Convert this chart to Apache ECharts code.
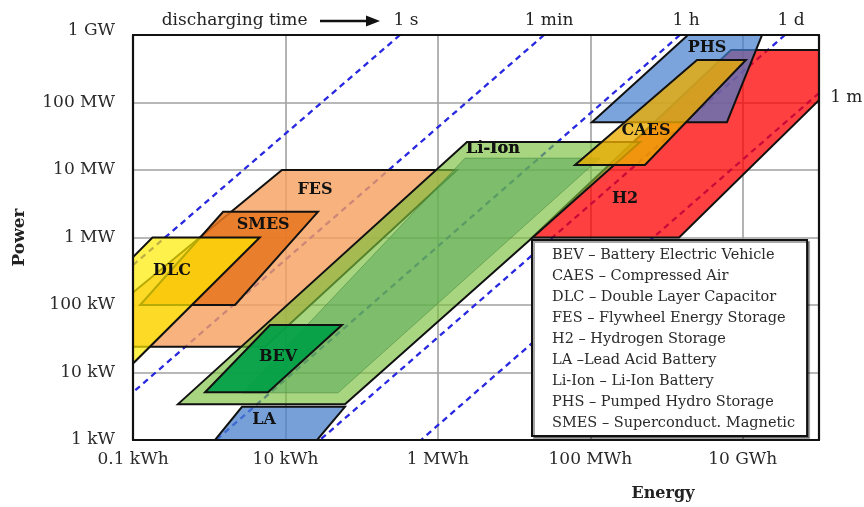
<!DOCTYPE html>
<html>
<head>
<meta charset="utf-8">
<script src="https://cdn.jsdelivr.net/npm/echarts@6/dist/echarts.min.js"></script>
<style>
html,body{margin:0;padding:0;background:#fff;}
#chart{width:864px;height:507px;}
</style>
</head>
<body>
<div id="chart"></div>
<script>
// ---- axes (Energy in Wh, Power in W) ----
const xTickValues = [1e2, 1e4, 1e6, 1e8, 1e10];
const xTickLabels = ['0.1 kWh', '10 kWh', '1 MWh', '100 MWh', '10 GWh'];
const yTickValues = [1e3, 1e4, 1e5, 1e6, 1e7, 1e8, 1e9];
const yTickLabels = ['1 kW', '10 kW', '100 kW', '1 MW', '10 MW', '100 MW', '1 GW'];

// ---- technology regions: vertices [energy Wh, power W] ----
const h2Vertices     = [[7.0e9, 6e8], [4.67e11, 6e8], [1.46e9, 1e6], [1.72e7, 1e6]];
const phsVertices    = [[1.91e9, 1e9], [1.79e10, 1e9], [6.2e9, 5.1e7], [1.05e8, 5.1e7]];
const fesVertices    = [[9.0e3, 1e7], [1.78e6, 1e7], [5.4e3, 2.4e4], [13.6, 2.4e4]];
const smesVertices   = [[1.52e3, 2.4e6], [2.67e4, 2.4e6], [2.18e3, 1e5], [124, 1e5]];
const dlcVertices    = [[180, 1e6], [4600, 1e6], [76, 1e4], [3.2, 1e4]];
const laVertices     = [[2.69e3, 3.1e3], [6.04e4, 3.1e3], [2.6e4, 1e3], [1.19e3, 1e3]];
const liIonOuterVertices = [[2.41e6, 2.6e7], [4.49e8, 2.6e7], [6.04e4, 3.4e3], [389, 3.4e3]];
const liIonInnerVertices = [[2.27e6, 1.5e7], [1.34e8, 1.5e7], [4.9e4, 5e3], [2.77e3, 5e3]];
const bevVertices    = [[6.27e3, 5.06e4], [5.52e4, 5.06e4], [5.9e3, 5.1e3], [881, 5.1e3]];
const caesVertices   = [[2.51e9, 4.26e8], [1.1e10, 4.26e8], [5.2e8, 1.19e7], [6.3e7, 1.19e7]];

// label anchor points [energy, power]
const regionNames = ['DLC', 'SMES', 'FES', 'BEV', 'LA', 'Li-Ion', 'H2', 'CAES', 'PHS'];
const regionLabelPositions = [[325, 3.2e5], [5.1e3, 1.53e6], [2.44e4, 5.06e6], [7.98e3, 1.7e4],
  [5.24e3, 1.98e3], [5.28e6, 2.05e7], [2.85e8, 3.72e6], [5.38e8, 3.78e7], [3.4e9, 6.4e8]];

// ---- constant discharging-time lines (end points) ----
const lineOneSecond = [[3.18e5, 1e9], [100, 3.9e5]];
const lineOneMinute = [[2.47e7, 1e9], [100, 5.1e3]];
const lineOneHour   = [[1.5e9, 1e9], [1.23e3, 1e3]];
const lineOneDay    = [[3.58e10, 1e9], [2.84e4, 1e3]];
const lineOneMonth  = [[1e11, 1.38e8], [6.0e5, 1e3]];
const timeLabelTexts = ['1 s', '1 min', '1 h', '1 d', '1 m'];
const timeLabelPositions = [[3.82e5, 1.61e9], [2.87e7, 1.61e9], [1.8e9, 1.61e9], [4.3e10, 1.61e9], [1.4e11, 1.2e8]];
const dischargeText = 'discharging time';
const dischargeTextPosition = [2.15e3, 1.61e9];
const arrowFrom = [2.84e4, 1.61e9];
const arrowTo = [1.74e5, 1.61e9];

// ---- legend ----
const legendNames = ['BEV', 'CAES', 'DLC', 'FES', 'H2', 'LA', 'Li-Ion', 'PHS', 'SMES'];
const legendTexts = ['BEV – Battery Electric Vehicle', 'CAES – Compressed Air', 'DLC – Double Layer Capacitor',
  'FES – Flywheel Energy Storage', 'H2 – Hydrogen Storage', 'LA –Lead Acid Battery',
  'Li-Ion – Li-Ion Battery', 'PHS – Pumped Hydro Storage', 'SMES – Superconduct. Magnetic'];

const SERIF = '"DejaVu Serif", "Liberation Serif", serif';

function tickLabel(values, labels, v) {
  for (let i = 0; i < values.length; i++) {
    if (Math.abs(Math.log10(v) - Math.log10(values[i])) < 0.01) return labels[i];
  }
  return '';
}

function region(name, vertices, fill, stroke, lineWidth, order) {
  const li = regionNames.indexOf(name);
  const showLabel = li >= 0 && !(name === 'Li-Ion' && order < 7);
  return {
    type: 'custom', name: name, clip: true, z: 2, silent: true,
    itemStyle: { color: fill },
    data: [vertices[0]],
    renderItem: function (params, api) {
      const pts = vertices.map(function (v) { return api.coord(v); });
      const children = [{
        type: 'polygon', z2: order, shape: { points: pts },
        style: { fill: fill, stroke: stroke, lineWidth: lineWidth, lineJoin: 'miter' }
      }];
      if (showLabel) {
        const p = api.coord(regionLabelPositions[li]);
        children.push({
          type: 'text', z2: 100,
          style: { text: name, x: p[0], y: p[1], align: 'center', verticalAlign: 'middle',
            font: 'bold 16px ' + SERIF, fill: '#111' }
        });
      }
      return { type: 'group', children: children };
    }
  };
}

function timeLine(points) {
  return {
    type: 'line', data: points, z: 1, silent: true, symbol: 'none', showSymbol: false,
    lineStyle: { color: '#2828e0', width: 2.3, type: [6, 4.5] }, legendHoverLink: false
  };
}

const chart = echarts.init(document.getElementById('chart'), null, { renderer: 'canvas' });

const frameAxisX = function (pos) {
  return { type: 'log', logBase: 100, min: 1e2, max: 1e11, position: pos, z: 10,
    axisLine: { show: true, onZero: false, lineStyle: { color: '#111', width: 2.2 } },
    axisTick: { show: false }, axisLabel: { show: false }, splitLine: { show: false } };
};
const frameAxisY = function (pos) {
  return { type: 'log', logBase: 10, min: 1e3, max: 1e9, position: pos, z: 10,
    axisLine: { show: true, onZero: false, lineStyle: { color: '#111', width: 2.2 } },
    axisTick: { show: false }, axisLabel: { show: false }, splitLine: { show: false } };
};

const option = {
  animation: false,
  backgroundColor: '#fff',
  grid: { left: 133, right: 45, top: 35, bottom: 67 },
  legend: {
    data: legendNames,
    orient: 'vertical', left: 532, top: 240,
    padding: [8, 12, 5, 15], itemGap: 6, itemWidth: 0, itemHeight: 14, icon: 'rect',
    selectedMode: false,
    backgroundColor: '#fff', borderColor: '#111', borderWidth: 2,
    shadowColor: 'rgba(0,0,0,0.35)', shadowOffsetX: 2, shadowOffsetY: 2, shadowBlur: 0,
    textStyle: { fontFamily: SERIF, fontSize: 14.5, color: '#2a2a2a' },
    formatter: function (name) { return legendTexts[legendNames.indexOf(name)]; }
  },
  xAxis: [
    {
      type: 'log', logBase: 100, min: 1e2, max: 1e11, position: 'bottom', z: 0,
      name: 'Energy', nameLocation: 'middle', nameGap: 46,
      nameTextStyle: { fontFamily: SERIF, fontWeight: 'bold', fontSize: 16, color: '#222', padding: [0, 0, 0, 374] },
      axisLine: { show: false }, axisTick: { show: false },
      axisLabel: { margin: 11, fontFamily: SERIF, fontSize: 17, color: '#2a2a2a',
        formatter: function (v) { return tickLabel(xTickValues, xTickLabels, v); } },
      splitLine: { show: true, lineStyle: { color: '#a0a0a0', width: 1.6 } }
    },
    frameAxisX('bottom'),
    frameAxisX('top')
  ],
  yAxis: [
    {
      type: 'log', logBase: 10, min: 1e3, max: 1e9, position: 'left', z: 0,
      name: 'Power', nameLocation: 'middle', nameGap: 105, nameRotate: 90,
      nameTextStyle: { fontFamily: SERIF, fontWeight: 'bold', fontSize: 17, color: '#222' },
      axisLine: { show: false }, axisTick: { show: false },
      axisLabel: { margin: 18, fontFamily: SERIF, fontSize: 17, color: '#2a2a2a',
        formatter: function (v) {
          const t = tickLabel(yTickValues, yTickLabels, v);
          return t === '1 GW' ? '{top|' + t + '}' : t;
        },
        rich: { top: { fontFamily: SERIF, fontSize: 17, color: '#2a2a2a', padding: [0, 0, 8, 0] } } },
      splitLine: { show: true, lineStyle: { color: '#a0a0a0', width: 1.6 } }
    },
    frameAxisY('left'),
    frameAxisY('right')
  ],
  series: [
    timeLine(lineOneSecond),
    timeLine(lineOneMinute),
    timeLine(lineOneHour),
    timeLine(lineOneDay),
    timeLine(lineOneMonth),
    region('H2', h2Vertices, 'rgba(255,0,0,0.75)', '#111', 2, 1),
    region('PHS', phsVertices, 'rgba(69,126,205,0.7)', '#111', 2, 2),
    region('FES', fesVertices, 'rgba(245,159,93,0.8)', '#111', 2, 3),
    region('SMES', smesVertices, 'rgba(230,116,31,0.85)', '#111', 2, 4),
    region('DLC', dlcVertices, 'rgba(255,235,0,0.7)', '#111', 2, 5),
    region('LA', laVertices, 'rgba(72,128,202,0.75)', '#111', 2, 6),
    region('Li-Ion', liIonOuterVertices, 'rgba(122,192,60,0.65)', '#111', 2, 7),
    region('Li-Ion', liIonInnerVertices, 'rgba(90,170,90,0.55)', 'rgba(60,120,50,0.45)', 1, 8),
    region('BEV', bevVertices, 'rgba(0,160,70,0.92)', '#111', 2, 9),
    region('CAES', caesVertices, 'rgba(236,173,0,0.79)', '#111', 2, 10),
    {
      type: 'custom', name: 'timeLabels', silent: true, z: 3,
      data: timeLabelPositions.map(function (p, i) { return [p[0], p[1], i]; }),
      renderItem: function (params, api) {
        const i = api.value(2);
        const p = api.coord([api.value(0), api.value(1)]);
        return {
          type: 'text', z2: 100,
          style: { text: timeLabelTexts[i], x: p[0], y: p[1],
            align: timeLabelTexts[i] === '1 m' ? 'left' : 'center', verticalAlign: 'middle',
            font: '17px ' + SERIF, fill: '#222' }
        };
      }
    },
    {
      type: 'custom', name: 'discharge', silent: true, z: 3,
      data: [dischargeTextPosition],
      renderItem: function (params, api) {
        const t = api.coord(dischargeTextPosition);
        const a = api.coord(arrowFrom);
        const b = api.coord(arrowTo);
        return {
          type: 'group', children: [
            { type: 'text', style: { text: dischargeText, x: t[0], y: t[1], align: 'center', verticalAlign: 'middle',
              font: '17px ' + SERIF, fill: '#222' } },
            { type: 'line', shape: { x1: a[0], y1: a[1], x2: b[0] - 10, y2: b[1] },
              style: { stroke: '#111', lineWidth: 2.5 } },
            { type: 'polygon', shape: { points: [[b[0], b[1]], [b[0] - 14, b[1] - 5.5], [b[0] - 14, b[1] + 5.5]] },
              style: { fill: '#111' } }
          ]
        };
      }
    }
  ]
};
chart.setOption(option);
</script>
</body>
</html>
